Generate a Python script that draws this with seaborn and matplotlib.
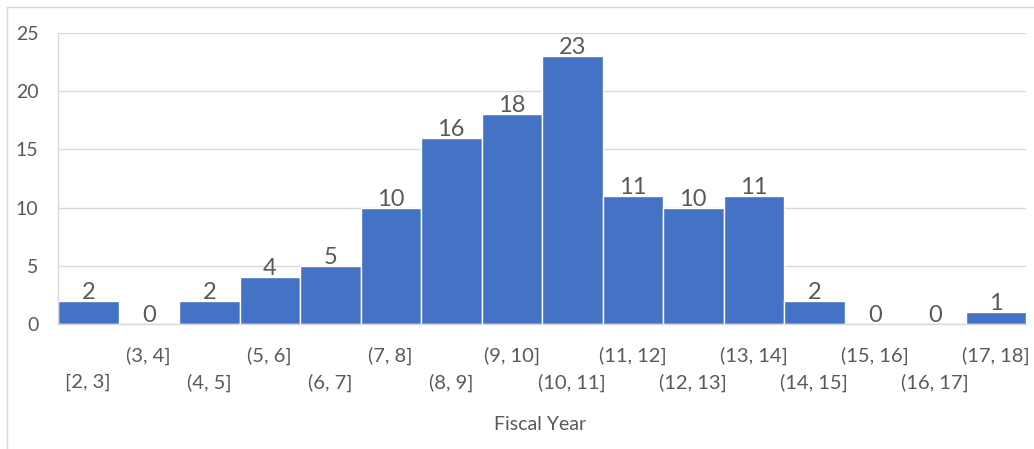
import matplotlib
matplotlib.use("Agg")
import matplotlib.pyplot as plt
import matplotlib.transforms as mtransforms
from matplotlib.lines import Line2D
import seaborn as sns
import pandas as pd

bins = ["[2, 3]", "(3, 4]", "(4, 5]", "(5, 6]", "(6, 7]", "(7, 8]", "(8, 9]", "(9, 10]",
        "(10, 11]", "(11, 12]", "(12, 13]", "(13, 14]", "(14, 15]", "(15, 16]", "(16, 17]", "(17, 18]"]
counts = [2, 0, 2, 4, 5, 10, 16, 18, 23, 11, 10, 11, 2, 0, 0, 1]
yticks = [0, 5, 10, 15, 20, 25]
xlabel = "Fiscal Year"

sns.set_theme(style="white")
plt.rcParams["font.family"] = ["Lato", "DejaVu Sans"]

TEXT = "#595959"
GRID = "#D9D9D9"
BLUE = "#4472C4"

df = pd.DataFrame({"bin": bins, "count": counts})

fig = plt.figure(figsize=(10.34, 4.49), dpi=100)
ax = fig.add_axes([58 / 1034, 1 - 324 / 449, (1026 - 58) / 1034, (324 - 33) / 449])

sns.barplot(data=df, x="bin", y="count", ax=ax, color=BLUE, width=1.0,
            edgecolor="white", linewidth=1.0, saturation=1)

ax.set_xlim(-0.5, len(bins) - 0.5)
ax.set_ylim(0, 25)
ax.set_yticks(yticks)
ax.yaxis.grid(True, color=GRID, linewidth=1)
ax.set_axisbelow(True)
for s in ["top", "right"]:
    ax.spines[s].set_visible(False)
ax.spines["left"].set_color(GRID)
ax.spines["bottom"].set_color(GRID)
ax.spines["left"].set_linewidth(1)
ax.spines["bottom"].set_linewidth(1)

ax.tick_params(axis="y", length=0, pad=14, labelsize=14, labelcolor=TEXT)
ax.tick_params(axis="x", length=0, pad=16, labelsize=14.5, labelcolor=TEXT)
ax.set_xlabel("")
ax.set_ylabel("")

offset = mtransforms.ScaledTranslation(0, -27 / 100, fig.dpi_scale_trans)
for i, lbl in enumerate(ax.get_xticklabels()):
    if i % 2 == 0:
        lbl.set_transform(lbl.get_transform() + offset)

for i, c in enumerate(counts):
    ax.annotate(str(c), (i, c), xytext=(0, 1.5), textcoords="offset points",
                ha="center", va="baseline", fontsize=17, color=TEXT)

fig.text(540 / 1034, 1 - 425 / 449, xlabel, ha="center", va="center",
         fontsize=14, color=TEXT)

# chart border (top and left edges visible in the crop)
fig.add_artist(Line2D([7 / 1034, 1], [1 - 7 / 449, 1 - 7 / 449],
                      transform=fig.transFigure, color=GRID, linewidth=1))
fig.add_artist(Line2D([7 / 1034, 7 / 1034], [0, 1 - 7 / 449],
                      transform=fig.transFigure, color=GRID, linewidth=1))

fig.savefig("out.png", dpi=100, facecolor="white")
